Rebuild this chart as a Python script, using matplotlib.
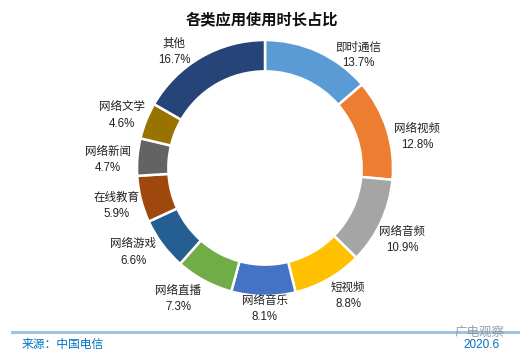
import matplotlib
matplotlib.use("Agg")
import matplotlib.pyplot as plt
from matplotlib.lines import Line2D

plt.rcParams['font.family'] = ['Liberation Sans', 'Noto Sans CJK SC', 'DejaVu Sans']

categories = ["即时通信", "网络视频", "网络音频", "短视频", "网络音乐", "网络直播",
              "网络游戏", "在线教育", "网络新闻", "网络文学", "其他"]
values = [13.7, 12.8, 10.9, 8.8, 8.1, 7.3, 6.6, 5.9, 4.7, 4.6, 16.7]
colors = ["#5B9BD5", "#ED7D31", "#A5A5A5", "#FFC000", "#4472C4", "#70AD47",
          "#255E91", "#9E480E", "#636363", "#997300", "#264478"]
# label anchor positions (in units of the outer radius)
label_pos = [(0.73, 0.88), (1.19, 0.24), (1.07, -0.56), (0.65, -1.00), (0.0, -1.10),
             (-0.68, -1.02), (-1.03, -0.66), (-1.16, -0.30), (-1.23, 0.06),
             (-1.12, 0.41), (-0.71, 0.91)]

W, H = 527, 358
fig = plt.figure(figsize=(W / 100, H / 100), dpi=100)
ax = fig.add_axes([0, 0, 1, 1])
cx, cy, R = 265, 168, 128

ax.pie(values, colors=colors, startangle=90, counterclock=False, radius=1,
       wedgeprops=dict(width=0.245, edgecolor="white", linewidth=1.8))
ax.set_aspect('auto')
ax.set_xlim(-cx / R, (W - cx) / R)
ax.set_ylim(-(H - cy) / R, cy / R)
ax.axis('off')

for name, v, (x, y) in zip(categories, values, label_pos):
    ax.text(x, y, f"{name}\n{v:.1f}%", ha="center", va="center", fontsize=8.3,
            color="#222222", linespacing=1.45)

fig.text(262 / W, 1 - 20 / H, "各类应用使用时长占比", ha="center", va="center",
         fontsize=11, fontweight="bold", color="#111111")

fig.add_artist(Line2D([12 / W, 518 / W], [1 - 332 / H, 1 - 332 / H],
                      transform=fig.transFigure, color="#9DC3E6", linewidth=2.2))
fig.text(22 / W, 1 - 345 / H, "来源：中国电信", ha="left", va="center",
         fontsize=8.5, color="#0070C0")
fig.text(500 / W, 1 - 345 / H, "2020.6", ha="right", va="center",
         fontsize=8.5, color="#0070C0")
fig.text(505 / W, 1 - 333 / H, "广电观察", ha="right", va="center",
         fontsize=9, color="#888888", alpha=0.8)

fig.savefig("out.png", dpi=100)
